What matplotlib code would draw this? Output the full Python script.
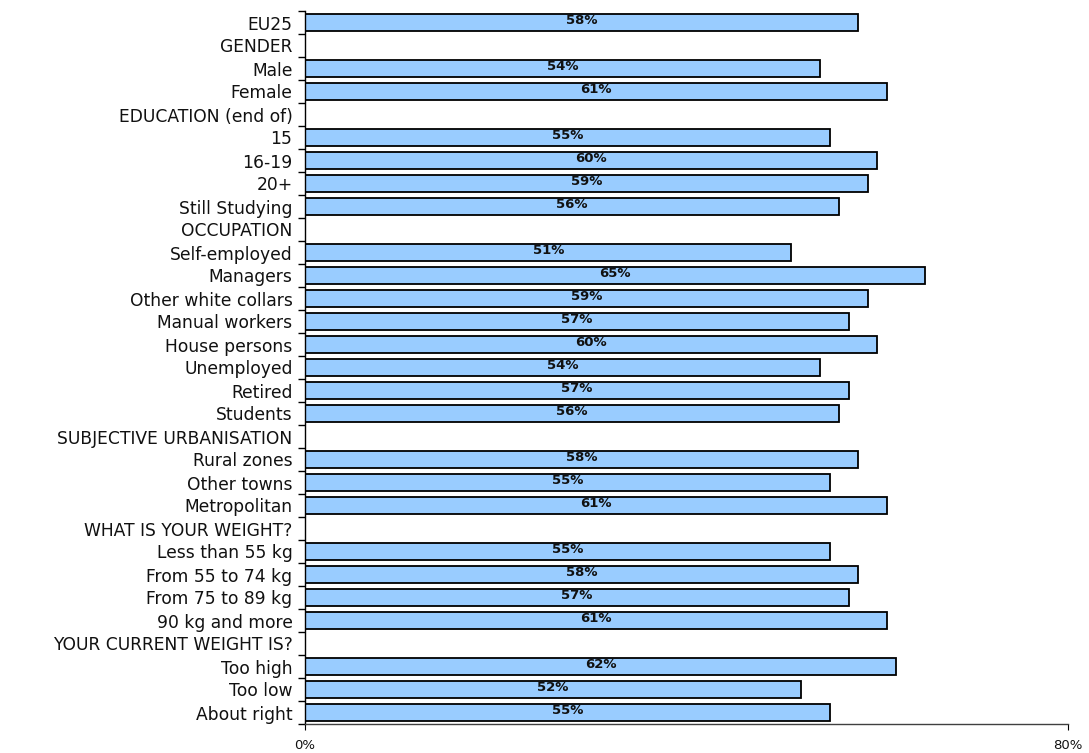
import matplotlib
matplotlib.use("Agg")
import matplotlib.pyplot as plt
import numpy as np

categories = ["EU25", "GENDER", "Male", "Female", "EDUCATION (end of)", "15", "16-19", "20+",
              "Still Studying", "OCCUPATION", "Self-employed", "Managers", "Other white collars",
              "Manual workers", "House persons", "Unemployed", "Retired", "Students",
              "SUBJECTIVE URBANISATION", "Rural zones", "Other towns", "Metropolitan",
              "WHAT IS YOUR WEIGHT?", "Less than 55 kg", "From 55 to 74 kg", "From 75 to 89 kg",
              "90 kg and more", "YOUR CURRENT WEIGHT IS?", "Too high", "Too low", "About right"]
values = [58, None, 54, 61, None, 55, 60, 59, 56, None, 51, 65, 59, 57, 60, 54, 57, 56,
          None, 58, 55, 61, None, 55, 58, 57, 61, None, 62, 52, 55]
x_ticks = [0, 80]
x_tick_labels = ["0%", "80%"]

fig = plt.figure(figsize=(10.89, 7.53), dpi=100)
ax = fig.add_axes([305/1089, 1 - 724/753, (1068-305)/1089, (724-11)/753])

n = len(categories)
y = np.arange(n)
for yi, v in zip(y, values):
    if v is None:
        continue
    ax.barh(yi, v, height=0.72, left=0, color="#99CCFF", edgecolor="black", linewidth=1.3, zorder=2)
    ax.text(v / 2, yi - 0.1, f"{v}%", ha="center", va="center", fontsize=9.5,
            fontweight="bold", color="#111111", zorder=3)

ax.set_xlim(0, 80)
ax.set_ylim(n - 0.5, -0.5)
ax.set_yticks(y)
ax.set_yticklabels(categories, fontsize=12.3, color="#111111")
ax.tick_params(axis="y", which="major", length=0, pad=9)
ax.set_yticks(np.arange(-0.5, n, 1), minor=True)
ax.tick_params(axis="y", which="minor", length=5, direction="out", width=1)
ax.set_xticks(x_ticks)
ax.set_xticklabels(x_tick_labels, fontsize=9.5, color="#111111")
ax.tick_params(axis="x", length=4, direction="out", pad=7)
for s in ["top", "right"]:
    ax.spines[s].set_visible(False)
ax.spines["left"].set_linewidth(1.0)
ax.spines["bottom"].set_linewidth(1.0)
ax.spines["bottom"].set_color("#404040")

fig.savefig("out.png", dpi=100)
